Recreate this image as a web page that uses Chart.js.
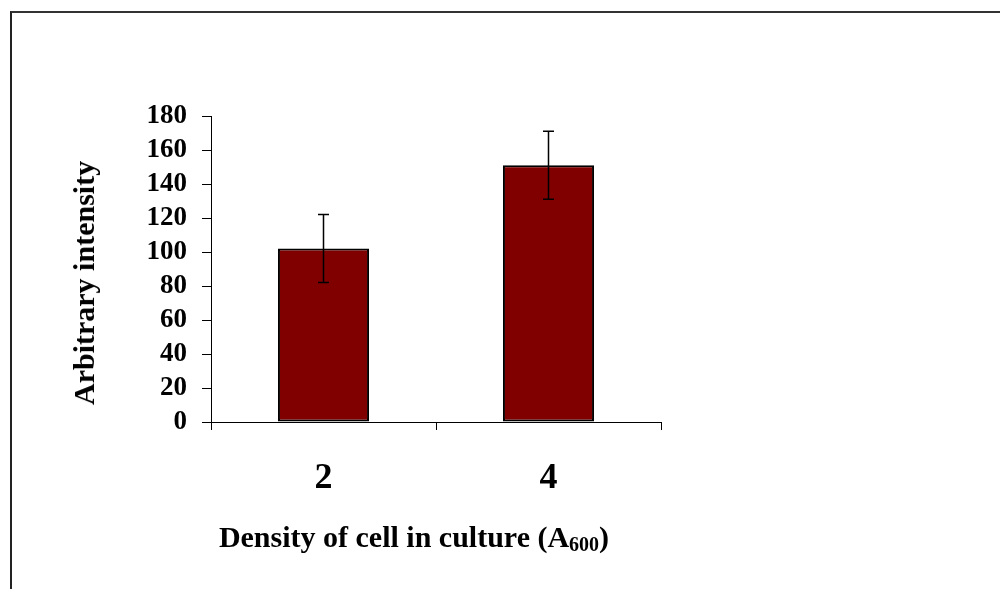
<!DOCTYPE html>
<html>
<head>
<meta charset="utf-8">
<script src="https://cdn.jsdelivr.net/npm/chart.js@4/dist/chart.umd.min.js"></script>
<style>
  body { margin: 0; background: #fff; }
  #wrap { position: relative; width: 1000px; height: 589px; overflow: hidden; font-family: "Liberation Serif", "Times New Roman", serif; }
  #frame { position: absolute; left: 10px; top: 11px; right: -10px; bottom: -10px; border-left: 2px solid #222; border-top: 2px solid #333; }
  #chart { position: absolute; left: 0; top: 0; }
  .title { position: absolute; white-space: nowrap; font-weight: bold; font-size: 30px; color: #000; }
  #ytitle { left: 84px; top: 283px; transform: translate(-50%, -50%) rotate(-90deg); }
  #xtitle { left: 414px; top: 538px; transform: translate(-50%, -50%); }
  #xtitle sub { font-size: 20px; vertical-align: -4px; }
</style>
</head>
<body>
<div id="wrap">
  <div id="frame"></div>
  <canvas id="chart" width="1000" height="589"></canvas>
  <div class="title" id="ytitle">Arbitrary intensity</div>
  <div class="title" id="xtitle">Density of cell in culture (A<sub>600</sub>)</div>
</div>
<script>
const densities = ['2', '4'];
const intensity = [102, 151];
const intensityErr = [20, 20];
const yTicks = [0, 20, 40, 60, 80, 100, 120, 140, 160, 180];

const serif = '"Liberation Serif", "Times New Roman", serif';

// error bars drawn from the value scale
const errorBars = {
  id: 'errorBars',
  afterDatasetsDraw(chart) {
    const ctx = chart.ctx;
    const y = chart.scales.y;
    const bars = chart.getDatasetMeta(0).data;
    ctx.save();
    ctx.strokeStyle = '#000';
    ctx.lineWidth = 1.5;
    bars.forEach((bar, i) => {
      const top = y.getPixelForValue(intensity[i] + intensityErr[i]);
      const bot = y.getPixelForValue(intensity[i] - intensityErr[i]);
      ctx.beginPath();
      ctx.moveTo(bar.x, top); ctx.lineTo(bar.x, bot);
      ctx.moveTo(bar.x - 5.5, top); ctx.lineTo(bar.x + 5.5, top);
      ctx.moveTo(bar.x - 5.5, bot); ctx.lineTo(bar.x + 5.5, bot);
      ctx.stroke();
    });
    ctx.restore();
  }
};

new Chart(document.getElementById('chart'), {
  type: 'bar',
  data: {
    labels: densities,
    datasets: [{
      data: intensity,
      backgroundColor: '#800000',
      borderColor: '#000',
      borderWidth: 2,
      borderSkipped: false,
      barPercentage: 0.405,
      categoryPercentage: 1
    }]
  },
  options: {
    responsive: false,
    animation: false,
    devicePixelRatio: 1,
    layout: { padding: { top: 116, right: 339, left: 0, bottom: 0 } },
    plugins: { legend: { display: false }, tooltip: { enabled: false } },
    scales: {
      x: {
        grid: { offset: true, drawOnChartArea: false, tickLength: 8, color: '#000' },
        border: { color: '#000', width: 1 },
        ticks: { color: '#000', padding: 27, font: { family: serif, size: 36, weight: 'bold' } },
        afterFit: s => { s.height = 167; }
      },
      y: {
        min: 0,
        max: 180,
        afterBuildTicks: s => { s.ticks = yTicks.map(v => ({ value: v })); },
        grid: { drawOnChartArea: false, tickLength: 9, color: '#000' },
        border: { color: '#000', width: 1 },
        ticks: { color: '#000', padding: 15, autoSkip: false, font: { family: serif, size: 27, weight: 'bold' } },
        afterFit: s => { s.width = 211; }
      }
    }
  },
  plugins: [errorBars]
});
</script>
</body>
</html>
